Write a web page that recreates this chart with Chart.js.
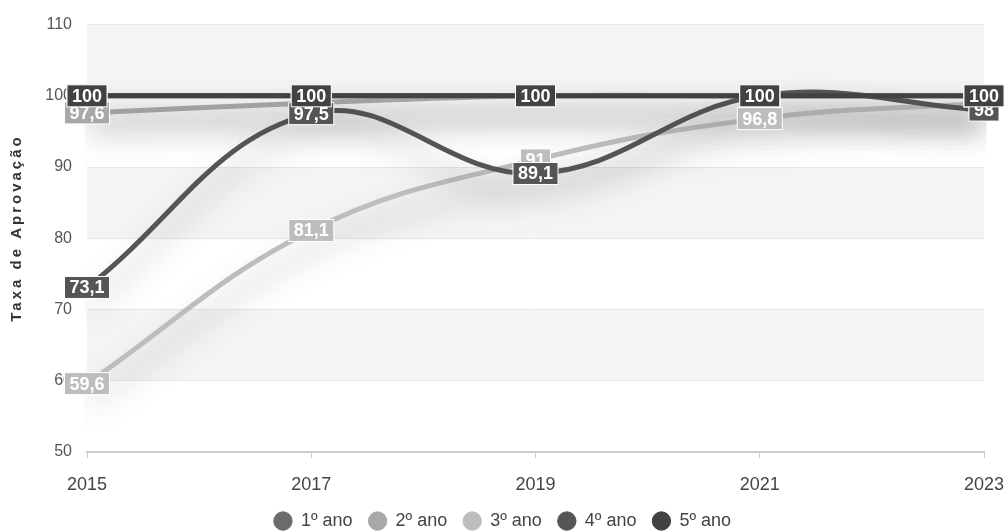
<!DOCTYPE html>
<html>
<head>
<meta charset="utf-8">
<script src="https://cdn.jsdelivr.net/npm/chart.js@4.4.1/dist/chart.umd.min.js"></script>
<style>
  html, body { margin: 0; padding: 0; background: #fff; }
</style>
</head>
<body>
<canvas id="grafico" width="1005" height="532"></canvas>
<script>
// dados
const anos = ["2015", "2017", "2019", "2021", "2023"];
const primeiroAno = [100, 100, 100, 100, 100];
const segundoAno = [97.6, 99, 100, 100, 100];
const terceiroAno = [59.6, 81.1, 91, 96.8, 99];
const quartoAno = [73.1, 97.5, 89.1, 100, 98];
const quintoAno = [100, 100, 100, 100, 100];
const ticksY = [50, 60, 70, 80, 90, 100, 110];

const fonte = '"Liberation Sans", Arial, sans-serif';

function serie(nome, valores, cor, ordem) {
  return {
    label: nome,
    data: valores,
    borderColor: cor,
    backgroundColor: cor,
    pointBackgroundColor: cor,
    pointBorderColor: cor,
    pointBorderWidth: 1,
    borderWidth: 5,
    pointRadius: 0,
    tension: 0.4,
    order: ordem
  };
}

// faixas alternadas no fundo
const faixas = {
  id: "faixas",
  beforeDraw(chart) {
    const ctx = chart.ctx;
    const area = chart.chartArea;
    const y = chart.scales.y;
    ctx.save();
    ctx.fillStyle = "#fff";
    ctx.fillRect(0, 0, chart.width, chart.height);
    ctx.fillStyle = "#f4f4f4";
    for (let i = 0; i < ticksY.length - 1; i++) {
      if (i % 2 == 1) {
        const topo = y.getPixelForValue(ticksY[i + 1]);
        const base = y.getPixelForValue(ticksY[i]);
        ctx.fillRect(area.left, topo, area.right - area.left, base - topo);
      }
    }
    ctx.restore();
  }
};

// sombra das linhas
const sombra = {
  id: "sombra",
  beforeDatasetDraw(chart) {
    const c = chart.ctx;
    c.save();
    c.shadowColor = "rgba(0,0,0,0.35)";
    c.shadowBlur = 30;
    c.shadowOffsetY = 20;
  },
  afterDatasetDraw(chart) {
    chart.ctx.restore();
  }
};

// rótulos com caixa
const rotulos = {
  id: "rotulos",
  afterDatasetsDraw(chart) {
    const ctx = chart.ctx;
    ctx.save();
    ctx.font = "bold 18px " + fonte;
    ctx.textAlign = "center";
    ctx.textBaseline = "middle";
    chart.data.datasets.forEach(function (ds, i) {
      const meta = chart.getDatasetMeta(i);
      meta.data.forEach(function (pt, j) {
        const txt = String(ds.data[j]).replace(".", ",");
        const w = ctx.measureText(txt).width + 10;
        const h = 22;
        ctx.fillStyle = ds.borderColor;
        ctx.fillRect(pt.x - w / 2, pt.y - h / 2, w, h);
        ctx.strokeStyle = "#fff";
        ctx.lineWidth = 1;
        ctx.strokeRect(pt.x - w / 2, pt.y - h / 2, w, h);
        ctx.fillStyle = "#fff";
        ctx.fillText(txt, pt.x, pt.y + 1);
      });
    });
    ctx.restore();
  }
};

// título do eixo y com espaçamento entre letras
const tituloY = {
  id: "tituloY",
  afterDraw(chart) {
    const ctx = chart.ctx;
    ctx.save();
    ctx.translate(17, 228);
    ctx.rotate(-Math.PI / 2);
    ctx.font = "bold 15px " + fonte;
    ctx.letterSpacing = "3px";
    ctx.fillStyle = "#333";
    ctx.textAlign = "center";
    ctx.textBaseline = "middle";
    ctx.fillText("Taxa de Aprovação", 0, 0);
    ctx.restore();
  }
};

const chartDOM = document.getElementById("grafico");
new Chart(chartDOM, {
  type: "line",
  data: {
    labels: anos,
    datasets: [
      serie("1º ano", primeiroAno, "#6b6b6b", 5),
      serie("2º ano", segundoAno, "#a8a8a8", 4),
      serie("3º ano", terceiroAno, "#bdbdbd", 3),
      serie("4º ano", quartoAno, "#555555", 2),
      serie("5º ano", quintoAno, "#424242", 1)
    ]
  },
  options: {
    responsive: false,
    animation: false,
    layout: { padding: { top: 22, right: 0, left: 0, bottom: -8 } },
    plugins: {
      legend: {
        position: "bottom",
        labels: {
          usePointStyle: true,
          pointStyle: "circle",
          boxWidth: 18,
          boxHeight: 13,
          padding: 16,
          color: "#444",
          font: { size: 18, family: fonte },
          sort: function (a, b) { return a.datasetIndex - b.datasetIndex; }
        }
      },
      tooltip: { enabled: false }
    },
    scales: {
      x: {
        offset: false,
        grid: { display: true, drawOnChartArea: false, drawTicks: true, tickLength: 6, color: "#cccccc" },
        border: { display: true, color: "#cccccc", width: 2 },
        ticks: { color: "#444", font: { size: 18, family: fonte }, padding: 16, maxRotation: 0 },
        afterFit: function (s) {
          s.height = 44;
          s.paddingRight = 21;
        }
      },
      y: {
        min: 50,
        max: 110,
        ticks: { stepSize: 10, color: "#555", font: { size: 16, family: fonte }, padding: 15 },
        grid: { color: "#e6e6e6", drawTicks: false },
        border: { display: false },
        afterFit: function (s) { s.width = 87; }
      }
    }
  },
  plugins: [faixas, sombra, rotulos, tituloY]
});
</script>
</body>
</html>
